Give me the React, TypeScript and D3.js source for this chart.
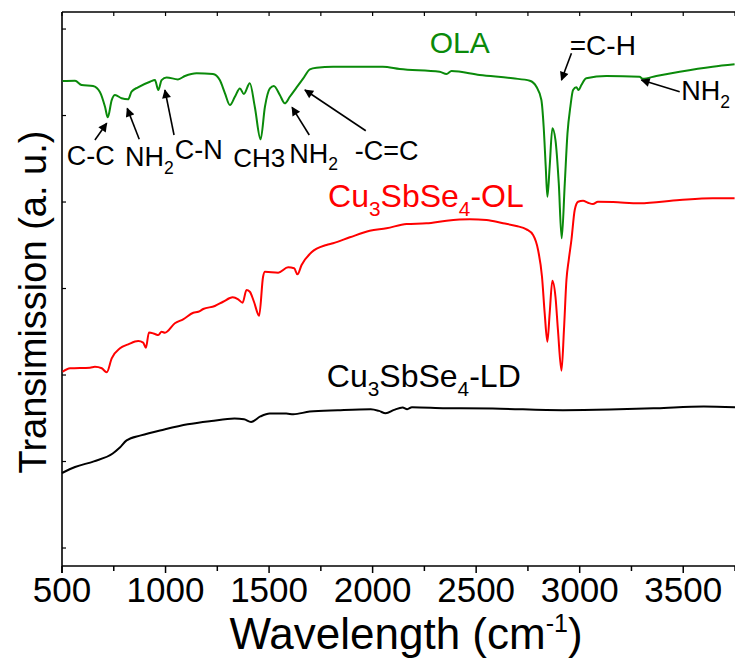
import React from 'react';
import * as d3 from 'd3';

// Wavenumber (cm-1) / transmission (a.u.) pairs
const olaSeries: [number, number][] = [
  [503,5.399],[563,5.402],[595,5.353],[650,5.341],[683,5.272],[708,5.098],[721,4.979],[740,5.179],[756,5.237],[788,5.199],
  [819,5.187],[836,5.276],[867,5.326],[925,5.391],[949,5.410],[965,5.295],[981,5.410],[1005,5.441],[1060,5.418],[1094,5.457],
  [1150,5.488],[1229,5.480],[1262,5.410],[1287,5.257],[1311,5.121],[1335,5.217],[1359,5.314],[1378,5.249],[1407,5.372],[1431,5.102],
  [1459,4.725],[1480,5.102],[1504,5.314],[1523,5.341],[1552,5.237],[1576,5.141],[1600,5.217],[1633,5.326],[1665,5.430],[1697,5.534],
  [1729,5.553],[1809,5.564],[2049,5.564],[2131,5.538],[2324,5.506],[2357,5.480],[2381,5.514],[2517,5.468],[2677,5.430],[2759,5.402],
  [2791,5.333],[2815,5.179],[2826,4.871],[2836,4.408],[2844,4.061],[2855,4.408],[2868,4.852],[2883,4.717],[2899,4.216],[2913,3.580],
  [2928,4.216],[2941,4.794],[2955,5.102],[2968,5.295],[2984,5.326],[2995,5.295],[3008,5.353],[3032,5.430],[3129,5.457],[3289,5.449],
  [3304,5.426],[3370,5.457],[3483,5.506],[3642,5.564],[3748,5.592]
];

const olSeries: [number, number][] = [
  [503,2.038],[539,2.078],[635,2.085],[659,2.096],[692,2.078],[716,2.031],[740,2.193],[780,2.309],[820,2.355],[868,2.393],
  [892,2.374],[905,2.316],[920,2.493],[949,2.474],[965,2.462],[981,2.500],[997,2.489],[1045,2.598],[1085,2.644],[1134,2.720],
  [1158,2.731],[1182,2.763],[1238,2.798],[1278,2.847],[1324,2.898],[1351,2.875],[1372,2.836],[1391,2.983],[1407,2.963],[1427,2.847],
  [1452,2.686],[1471,3.136],[1480,3.194],[1544,3.183],[1592,3.245],[1621,3.234],[1637,3.164],[1657,3.272],[1705,3.419],[1777,3.503],
  [1809,3.523],[1890,3.592],[1986,3.668],[2067,3.696],[2164,3.746],[2260,3.754],[2357,3.784],[2469,3.800],[2550,3.792],[2630,3.754],
  [2694,3.723],[2743,3.684],[2775,3.618],[2799,3.445],[2818,3.136],[2831,2.713],[2844,2.385],[2855,2.713],[2868,3.090],[2883,2.905],
  [2895,2.520],[2912,2.050],[2924,2.520],[2936,3.098],[2947,3.329],[2960,3.561],[2976,3.908],[2992,4.003],[3016,4.015],[3040,3.992],
  [3064,3.977],[3088,4.003],[3161,4.000],[3289,3.985],[3483,4.023],[3642,4.043],[3748,4.043]
];

const ldSeries: [number, number][] = [
  [500,0.867],[563,0.936],[654,1.002],[745,1.092],[778,1.158],[812,1.244],[881,1.302],[994,1.371],[1107,1.430],[1221,1.468],
  [1333,1.496],[1379,1.488],[1413,1.458],[1458,1.521],[1503,1.554],[1583,1.554],[1617,1.546],[1696,1.577],[1832,1.593],[1991,1.605],
  [2031,1.585],[2063,1.557],[2104,1.597],[2145,1.624],[2167,1.605],[2190,1.628],[2353,1.616],[2580,1.612],[2919,1.593],[3146,1.600],
  [3372,1.616],[3599,1.636],[3753,1.628]
];

const xMajorTicks = [500, 1000, 1500, 2000, 2500, 3000, 3500];
const xMinorTicks = [750, 1250, 1750, 2250, 2750, 3250, 3750];
const yTicks = [0, 1, 2, 3, 4, 5, 6];

// Band assignment arrows: [tail wn, tail T, head wn, head T]
const bandArrows: [number, number, number, number][] = [
  [659, 4.717, 716, 4.910],
  [873, 4.725, 815, 5.083],
  [1041, 4.775, 997, 5.295],
  [1694, 4.775, 1611, 5.095],
  [1967, 4.824, 1673, 5.295],
  [2960, 5.719, 2912, 5.410],
  [3483, 5.275, 3298, 5.410],
];

type Part = { t: string; sub?: boolean };
type Label = { wn: number; t: number; parts: Part[]; color: string; size: number };

const bandLabels: Label[] = [
  { wn: 523, t: 4.428, parts: [{ t: 'C-C' }], color: '#000', size: 27 },
  { wn: 804, t: 4.416, parts: [{ t: 'NH' }, { t: '2', sub: true }], color: '#000', size: 27 },
  { wn: 1045, t: 4.494, parts: [{ t: 'C-N' }], color: '#000', size: 27 },
  { wn: 1327, t: 4.408, parts: [{ t: 'CH3' }], color: '#000', size: 26 },
  { wn: 1597, t: 4.454, parts: [{ t: 'NH' }, { t: '2', sub: true }], color: '#000', size: 27 },
  { wn: 1914, t: 4.486, parts: [{ t: '-C=C' }], color: '#000', size: 27 },
  { wn: 2952, t: 5.699, parts: [{ t: '=C-H' }], color: '#000', size: 28 },
  { wn: 3491, t: 5.179, parts: [{ t: 'NH' }, { t: '2', sub: true }], color: '#000', size: 27 },
];

const seriesLabels: Label[] = [
  { wn: 2276, t: 5.723, parts: [{ t: 'OLA' }], color: '#0a8a0a', size: 30 },
  { wn: 1785, t: 3.942, parts: [{ t: 'Cu' }, { t: '3', sub: true }, { t: 'SbSe' }, { t: '4', sub: true }, { t: '-OL' }], color: '#ff0000', size: 32 },
  { wn: 1779, t: 1.861, parts: [{ t: 'Cu' }, { t: '3', sub: true }, { t: 'SbSe' }, { t: '4', sub: true }, { t: '-LD' }], color: '#000', size: 32 },
];

const W = 735;
const H = 663;
const FONT = "'Liberation Sans', Arial, Helvetica, sans-serif";

function LabelText({ l, x, y }: { l: Label; x: (v: number) => number; y: (v: number) => number }) {
  const shift = l.size * 0.28;
  let prevSub = false;
  return (
    <text x={x(l.wn)} y={y(l.t)} fill={l.color} fontSize={l.size} fontFamily={FONT}>
      {l.parts.map((p, i) => {
        let dy = 0;
        if (p.sub && !prevSub) dy = shift;
        if (!p.sub && prevSub) dy = -shift;
        prevSub = !!p.sub;
        return (
          <tspan key={i} dy={dy} fontSize={p.sub ? l.size * 0.65 : l.size}>
            {p.t}
          </tspan>
        );
      })}
    </text>
  );
}

export default function App() {
  const x = d3.scaleLinear().domain([500, 3750]).range([62, 735]);
  const y = d3.scaleLinear().domain([-0.208, 6.197]).range([566, 12]);
  const line = d3
    .line<[number, number]>()
    .x((d) => x(d[0]))
    .y((d) => y(d[1]))
    .curve(d3.curveMonotoneX);

  const [x0, x1] = x.range();
  const [yb, yt] = y.range();

  return (
    <svg
      width={W}
      height={H}
      viewBox={`0 0 ${W} ${H}`}
      style={{ position: 'absolute', left: 0, top: 0, background: '#fff' }}
    >
      <defs>
        <marker id="ah" viewBox="0 0 10 10" refX="9" refY="5" markerWidth="11" markerHeight="9" markerUnits="userSpaceOnUse" orient="auto">
          <path d="M0,0 L10,5 L0,10 z" fill="#000" />
        </marker>
      </defs>
      <rect x={0} y={0} width={W} height={H} fill="#fff" />

      {/* frame */}
      <line x1={x0} x2={x1} y1={yt} y2={yt} stroke="#000" strokeWidth={1.5} />
      <line x1={x0} x2={x1} y1={yb} y2={yb} stroke="#000" strokeWidth={1.6} />
      <line x1={x0} x2={x0} y1={yt} y2={yb + 7} stroke="#000" strokeWidth={1.6} />

      {/* x ticks */}
      {xMajorTicks.map((v) => (
        <g key={'M' + v}>
          <line x1={x(v)} x2={x(v)} y1={yb} y2={yb + 7} stroke="#000" strokeWidth={1.5} />
          <line x1={x(v)} x2={x(v)} y1={yt} y2={yt + 4} stroke="#000" strokeWidth={1.2} />
          <text x={x(v)} y={602} textAnchor="middle" fontSize={35} fontFamily={FONT} fill="#000">
            {v}
          </text>
        </g>
      ))}
      {xMinorTicks.map((v) => (
        <g key={'m' + v}>
          <line x1={x(v)} x2={x(v)} y1={yb} y2={yb + 5} stroke="#000" strokeWidth={1.5} />
          <line x1={x(v)} x2={x(v)} y1={yt} y2={yt + 4} stroke="#000" strokeWidth={1.2} />
        </g>
      ))}
      {yTicks.map((v) => (
        <line key={'y' + v} x1={x0} x2={x0 + 4} y1={y(v)} y2={y(v)} stroke="#000" strokeWidth={1.2} />
      ))}

      {/* axis titles */}
      <text x={406} y={649} textAnchor="middle" fontSize={44} fontFamily={FONT} fill="#000">
        Wavelength (cm<tspan dy={-17} fontSize={25}>-1</tspan>
        <tspan dy={17}>)</tspan>
      </text>
      <text
        transform={`translate(46,302) rotate(-90)`}
        textAnchor="middle"
        fontSize={38}
        fontFamily={FONT}
        fill="#000"
      >
        Transimission (a. u.)
      </text>

      {/* spectra */}
      <path d={line(ldSeries) || ''} fill="none" stroke="#000" strokeWidth={2} />
      <path d={line(olSeries) || ''} fill="none" stroke="#ff0000" strokeWidth={2} />
      <path d={line(olaSeries) || ''} fill="none" stroke="#0a8a0a" strokeWidth={2} />

      {/* annotations */}
      {bandArrows.map((a, i) => (
        <line
          key={'a' + i}
          x1={x(a[0])}
          y1={y(a[1])}
          x2={x(a[2])}
          y2={y(a[3])}
          stroke="#000"
          strokeWidth={1.6}
          markerEnd="url(#ah)"
        />
      ))}
      {bandLabels.map((l, i) => (
        <LabelText key={'b' + i} l={l} x={x} y={y} />
      ))}
      {seriesLabels.map((l, i) => (
        <LabelText key={'s' + i} l={l} x={x} y={y} />
      ))}
    </svg>
  );
}
